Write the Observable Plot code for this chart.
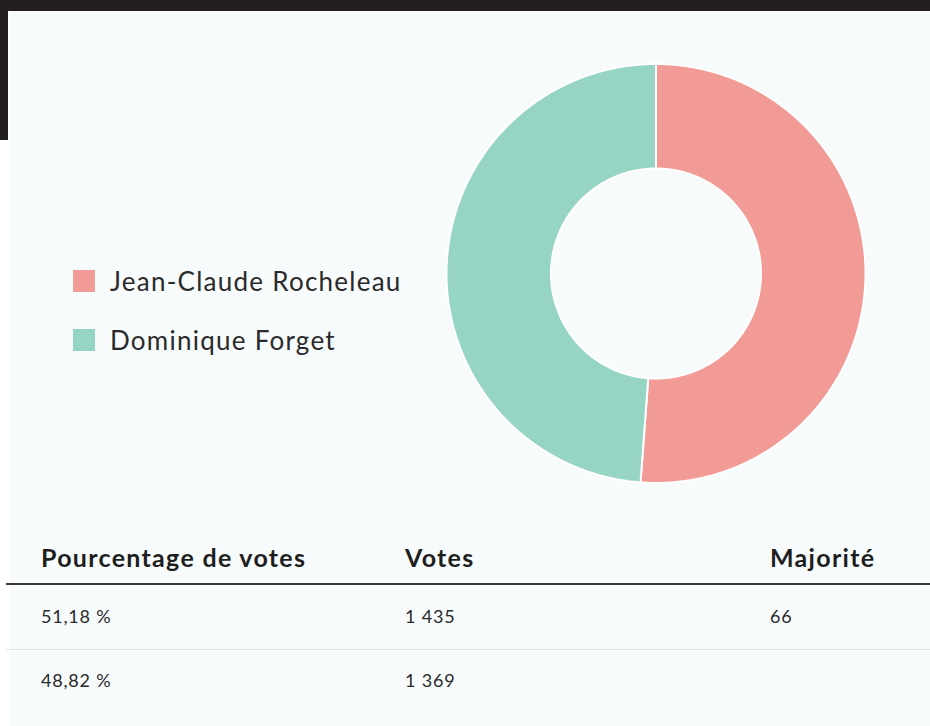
<!DOCTYPE html>
<html><head><meta charset="utf-8">
<script src="https://cdn.jsdelivr.net/npm/d3@7"></script>
<script src="https://cdn.jsdelivr.net/npm/@observablehq/plot@0.6"></script>
<style>
html,body{margin:0;padding:0;background:#fff;}
body{width:930px;height:726px;position:relative;overflow:hidden;font-family:Lato,"Noto Sans",sans-serif;color:#2a2a2a;}
#panel{position:absolute;left:10px;top:10px;width:920px;height:716px;background:#f7fbfc;}
#bartop{position:absolute;left:0;top:0;width:930px;height:11px;background:#231f20;}
#barleft{position:absolute;left:0;top:0;width:8px;height:140px;background:#231f20;}
#chart{position:absolute;left:0;top:0;}
#legend{position:absolute;left:73px;top:270px;}
.lg-swatches{font-family:Lato,"Noto Sans",sans-serif !important;font-size:26px !important;letter-spacing:1.25px;color:#2a2a2a !important;margin:0 !important;}
.lg-swatch{height:22px;margin:0 0 37px 0 !important;padding:0 !important;overflow:visible !important;}
.lg-swatch svg{margin-right:15px !important;}
.cell{position:absolute;white-space:nowrap;line-height:30px;height:30px;}
.hd{font-weight:700;font-size:25px;letter-spacing:1.3px;color:#1e1e1e;}
.rw{font-size:18px;letter-spacing:0.8px;color:#2a2a2a;}
.rule{position:absolute;left:6px;width:924px;}
</style>
</head><body>
<div id="panel"></div>
<div id="bartop"></div>
<div id="barleft"></div>
<div id="chart"></div>
<div id="legend"></div>
<div id="table"></div>
<script>
// ---- data ----
const candidates = ["Jean-Claude Rocheleau", "Dominique Forget"];
const votes = [1435, 1369];
const percentages = [51.18, 48.82];
const majorities = [66, null];
const headers = ["Pourcentage de votes", "Votes", "Majorité"];
const colors = ["#f29a95", "#96d4c3"];

// ---- donut via Plot.geo with planar identity projection ----
const pie = d3.pie().sort(null)(votes);
const innerRatio = 105 / 209.5;
function slicePolygon(a0, a1) {
  const n = Math.max(8, Math.ceil((a1 - a0) / 0.01));
  const pts = [];
  for (let i = 0; i <= n; i++) { const a = a0 + (a1 - a0) * i / n; pts.push([Math.sin(a), -Math.cos(a)]); }
  for (let i = n; i >= 0; i--) { const a = a0 + (a1 - a0) * i / n; pts.push([innerRatio * Math.sin(a), -innerRatio * Math.cos(a)]); }
  pts.push(pts[0]);
  return pts;
}
const features = pie.map((p, i) => ({
  type: "Feature",
  properties: {name: candidates[i], votes: votes[i]},
  geometry: {type: "Polygon", coordinates: [slicePolygon(p.startAngle, p.endAngle)]}
}));

const chart = Plot.plot({
  width: 930,
  height: 500,
  margin: 0,
  style: {background: "transparent"},
  projection: d3.geoIdentity().scale(209.5).translate([655.5, 273]),
  color: {domain: candidates, range: colors},
  marks: [
    Plot.geo(features, {fill: d => d.properties.name, stroke: "white", strokeWidth: 2})
  ]
});
document.getElementById("chart").appendChild(chart);

// ---- legend ----
const legend = Plot.legend({
  color: {domain: candidates, range: colors},
  legend: "swatches",
  columns: 1,
  swatchSize: 22,
  className: "lg"
});
document.getElementById("legend").appendChild(legend);

// ---- table ----
const fr = d3.formatLocale({decimal: ",", thousands: "\u00a0", grouping: [3], currency: ["", " €"]});
const fmtInt = fr.format(",d");
const fmtPct = v => fr.format(".2f")(v) + " %";
const colX = [41, 405, 770];
const table = document.getElementById("table");
function cell(text, x, cy, cls) {
  const d = document.createElement("div");
  d.className = "cell " + cls;
  d.style.left = x + "px";
  d.style.top = (cy - 15) + "px";
  d.textContent = text;
  table.appendChild(d);
}
headers.forEach((h, i) => cell(h, colX[i], 557, "hd"));
const rowY = [616, 680];
candidates.forEach((c, r) => {
  cell(fmtPct(percentages[r]), colX[0], rowY[r], "rw");
  cell(fmtInt(votes[r]), colX[1], rowY[r], "rw");
  if (majorities[r] != null) cell(fmtInt(majorities[r]), colX[2], rowY[r], "rw");
});
const r1 = document.createElement("div"); r1.className = "rule";
r1.style.top = "583px"; r1.style.height = "2px"; r1.style.background = "#3b3b3b"; table.appendChild(r1);
const r2 = document.createElement("div"); r2.className = "rule";
r2.style.top = "649px"; r2.style.height = "1px"; r2.style.background = "#e2e6e9"; table.appendChild(r2);
</script>
</body></html>
